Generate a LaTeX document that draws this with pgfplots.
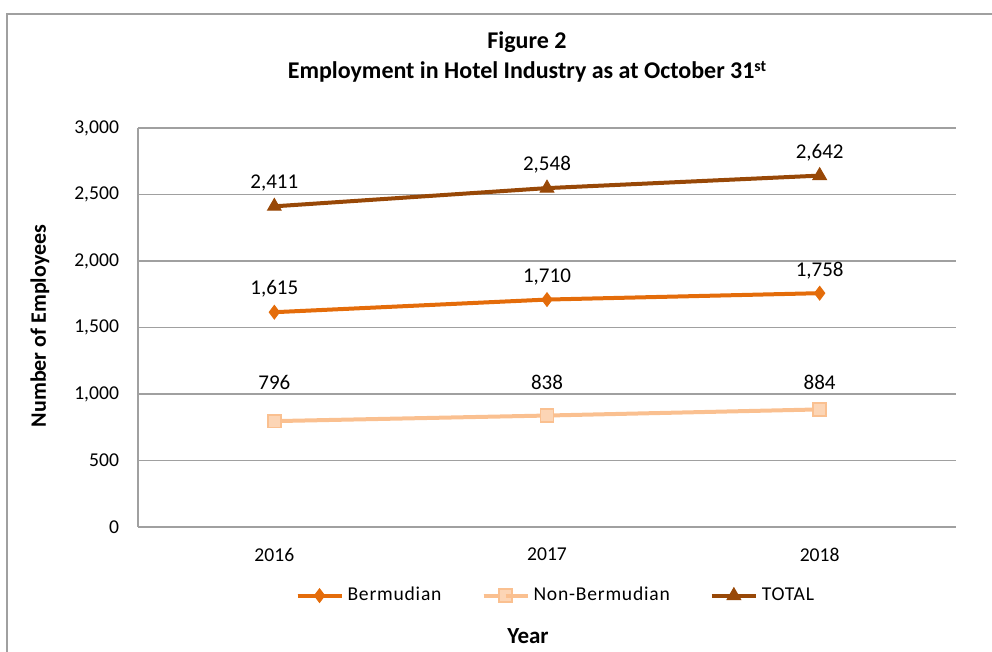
\documentclass[border=0pt]{standalone}
\usepackage{pgfplots}
\pgfplotsset{compat=1.18}
\usepackage{fontspec}
\setmainfont{Carlito}
\definecolor{berm}{HTML}{E46C0A}
\definecolor{nonberm}{HTML}{FAC090}
\definecolor{nonbermfill}{HTML}{FCD5B5}
\definecolor{tot}{HTML}{984807}
\definecolor{gridc}{HTML}{A0A0A0}
\begin{document}
\begin{tikzpicture}
\useasboundingbox (0,0) rectangle (496pt,326pt);
\draw[gridc, line width=0.8pt] (3.5pt,-10pt) -- (3.5pt,319pt) -- (510pt,319pt);
\node[font=\bfseries\fontsize{12}{14}\selectfont] at (263.5pt,305pt) {Figure 2};
\node[font=\bfseries\fontsize{12}{14}\selectfont] at (263.5pt,290pt) {Employment in Hotel Industry as at October 31{\fontsize{8}{9}\selectfont\raisebox{3.5pt}{st}}};
\begin{axis}[
  at={(69pt,62.5pt)}, anchor=south west,
  scale only axis, width=409pt, height=199.5pt,
  xmin=-0.5, xmax=2.5, ymin=0, ymax=3000,
  xtick={0,1,2}, xticklabels={2016,2017,2018},
  ytick={0,500,...,3000},
  /pgf/number format/.cd, assume math mode=true, 1000 sep={,},
  /pgfplots/.cd,
  ticklabel style={font=\fontsize{9.8}{11}\selectfont},
  major tick length=0pt,
  axis x line*=bottom, axis y line*=left,
  axis line style={gridc, line width=0.8pt},
  ymajorgrids, grid style={gridc, line width=0.8pt},
  yticklabel style={xshift=-6pt},
  xticklabel style={yshift=-7pt},
  clip=false,
  legend style={at={(0.512,-0.172)}, anchor=center, draw=none, fill=none,
    font=\fontsize{9.8}{11}\selectfont\addfontfeature{LetterSpace=4}, legend columns=3,
    /tikz/every even column/.append style={column sep=18pt}},
  legend cell align=left,
  legend image code/.code={\draw[#1] (0pt,0pt) -- (11pt,0pt); \draw[#1,mark repeat=2,mark phase=2] plot coordinates {(0pt,0pt) (11pt,0pt) (22pt,0pt)}; \draw[#1] (11pt,0pt) -- (22pt,0pt);},
]
\addplot[berm, line width=2pt, mark=diamond*, mark size=3.4pt, mark options={solid, fill=berm, line width=0.5pt},
  nodes near coords, every node near coord/.append style={black, anchor=center, yshift=11.5pt, font=\fontsize{10.5}{12}\selectfont, /pgf/number format/1000 sep={,}}]
  coordinates {(0,1615) (1,1710) (2,1758)};
\addlegendentry{Bermudian}
\addplot[nonberm, line width=2pt, mark=square*, mark size=3.2pt, mark options={solid, fill=nonbermfill, draw=nonberm, line width=0.8pt}]
  coordinates {(0,796) (1,838) (2,884)};
\addlegendentry{Non-Bermudian}
\addplot[tot, line width=2pt, mark=triangle*, mark size=3.9pt, mark options={solid, fill=tot, line width=0.5pt},
  nodes near coords, every node near coord/.append style={black, anchor=center, yshift=11.5pt, font=\fontsize{10.5}{12}\selectfont, /pgf/number format/1000 sep={,}}]
  coordinates {(0,2411) (1,2548) (2,2642)};
\addlegendentry{TOTAL}
\node[font=\fontsize{10.5}{12}\selectfont] at (axis cs:0,1090) {796};
\node[font=\fontsize{10.5}{12}\selectfont] at (axis cs:1,1090) {838};
\node[font=\fontsize{10.5}{12}\selectfont] at (axis cs:2,1090) {884};
\end{axis}
\node[font=\bfseries\fontsize{11.5}{13}\selectfont] at (264pt,8pt) {Year};
\node[font=\bfseries\fontsize{11}{12}\selectfont, rotate=90] at (20pt,163pt) {Number of Employees};
\end{tikzpicture}
\end{document}
